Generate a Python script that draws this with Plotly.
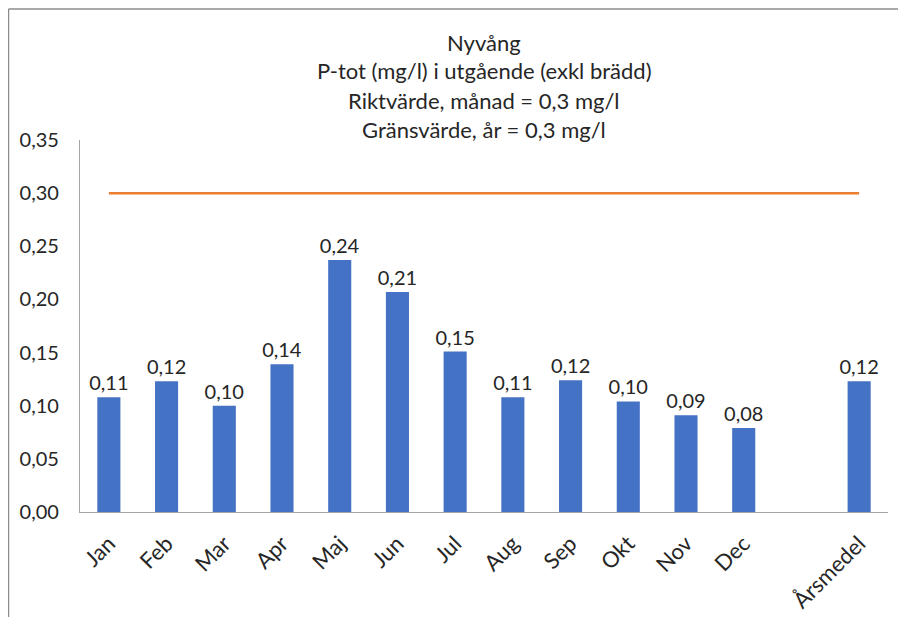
import plotly.graph_objects as go

categories = ["Jan", "Feb", "Mar", "Apr", "Maj", "Jun", "Jul", "Aug", "Sep", "Okt", "Nov", "Dec", " ", "Årsmedel"]
p_tot = [0.108, 0.123, 0.100, 0.139, 0.237, 0.207, 0.151, 0.108, 0.124, 0.104, 0.091, 0.079, None, 0.123]
riktvarde = [0.3] * len(categories)
title_lines = ["Nyvång", "P-tot (mg/l) i utgående (exkl brädd)", "Riktvärde, månad = 0,3 mg/l", "Gränsvärde, år = 0,3 mg/l"]
y_ticks = [0.0, 0.05, 0.10, 0.15, 0.20, 0.25, 0.30, 0.35]

FONT = "Lato"
TXT = "#262626"

fig = go.Figure()
fig.add_trace(go.Bar(
    x=categories, y=p_tot, marker=dict(color="#4472C4", line=dict(width=0)),
    texttemplate="%{y:.2f}", textposition="outside", cliponaxis=False,
    constraintext="none",
    textfont=dict(family=FONT, size=20, color=TXT), showlegend=False,
))
fig.add_trace(go.Scatter(
    x=categories, y=riktvarde, mode="lines",
    line=dict(color="#ED7D31", width=2.5), showlegend=False,
))

# page body has an 8px offset; work in figure coordinates
L, R, T, B = 72, 880, 132, 504
W, H = 890, 609

def py(p):
    return (B - p) / (B - T)

def px(p):
    return (p - L) / (R - L)

for i, (txt, yc) in enumerate(zip(title_lines, [34, 63, 92, 121])):
    fig.add_annotation(text=txt, x=0.5, y=py(yc), xref="paper", yref="paper",
                       showarrow=False, xanchor="center", yanchor="middle",
                       font=dict(family=FONT, size=22, color=TXT))

# outer chart border (top and left visible)
fig.add_shape(type="line", xref="paper", yref="paper", x0=px(0.5), x1=px(W), y0=py(1), y1=py(1),
              line=dict(color="#8C8C8C", width=1.5))
fig.add_shape(type="line", xref="paper", yref="paper", x0=px(0.5), x1=px(0.5), y0=py(1), y1=py(H),
              line=dict(color="#8C8C8C", width=1.5))

fig.update_layout(
    width=W, height=H,
    margin=dict(l=L, r=W - R, t=T, b=H - B, autoexpand=False),
    paper_bgcolor="white", plot_bgcolor="white",
    separators=", ",
    bargap=0.6,
    font=dict(family=FONT, size=20, color=TXT),
    xaxis=dict(type="category", categoryorder="array", categoryarray=categories,
               tickangle=-45, showline=True, linecolor="#A6A6A6", linewidth=1.2,
               showgrid=False, ticks="", ticklabelstandoff=9, automargin=False,
               tickfont=dict(family=FONT, size=22, color=TXT)),
    yaxis=dict(range=[0, 0.35], tickvals=y_ticks, tickformat=".2f",
               showline=True, linecolor="#A6A6A6", linewidth=1.2,
               showgrid=False, zeroline=False, ticks="", ticklabelstandoff=16,
               automargin=False,
               tickfont=dict(family=FONT, size=20, color=TXT)),
)

fig.write_html("out.html")
